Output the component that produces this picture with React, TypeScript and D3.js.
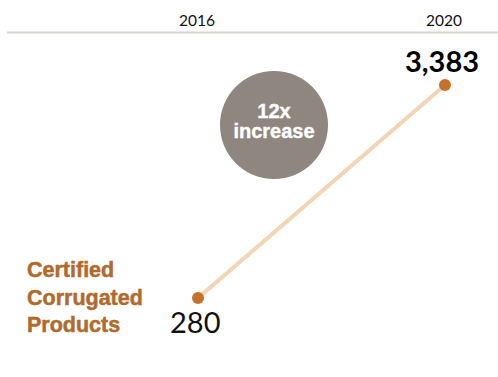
import React from "react";
import * as d3 from "d3";

const years = ["2016", "2020"];
const values = [280, 3383];
const valueLabels = ["280", "3,383"];
const seriesLabel = ["Certified", "Corrugated", "Products"];
const badgeLines = ["12x", "increase"];

export default function App() {
  const W = 498, H = 377;
  const x = d3.scalePoint<string>().domain(years).range([198, 445]);
  const y = d3.scaleLinear().domain([280, 3383]).range([298, 85]);
  const pts: [number, number][] = years.map((yr, i) => [x(yr) as number, y(values[i])]);
  const line = d3.line()(pts) as string;
  const headerX = years.map((yr) => (x(yr) as number) - 1);

  return (
    <div style={{ position: "fixed", left: 0, top: 0 }}>
      <svg width={W} height={H} style={{ display: "block", background: "#fff" }}>
        {years.map((yr, i) => (
          <text key={yr} x={headerX[i]} y={26} textAnchor="middle"
            fontFamily="Lato, 'Open Sans', sans-serif" fontSize={15.5} fill="#111">{yr}</text>
        ))}
        <line x1={7} x2={498} y1={32.5} y2={32.5} stroke="#d9d4d0" strokeWidth={2} />

        <circle cx={274} cy={125} r={54} fill="#8f8680" />
        {badgeLines.map((t, i) => (
          <text key={t} x={274} y={117.5 + i * 20} textAnchor="middle"
            fontFamily="'Liberation Sans', Arial, sans-serif" fontWeight="bold" fontSize={20}
            fill="#fff" stroke="#fff" strokeWidth={0.4}>{t}</text>
        ))}

        <path d={line} stroke="#f3d4b4" strokeWidth={4} fill="none" strokeLinecap="round" />
        {pts.map((p, i) => (
          <circle key={i} cx={p[0]} cy={p[1]} r={6} fill="#c5722f" />
        ))}

        <text x={442} y={72} textAnchor="middle" fontFamily="Lato, sans-serif" fontWeight="bold"
          fontSize={29} fill="#000">{valueLabels[1]}</text>
        <text x={170} y={333} textAnchor="start" fontFamily="Lato, sans-serif" fontWeight="normal"
          fontSize={29} fill="#111">{valueLabels[0]}</text>

        {seriesLabel.map((t, i) => (
          <text key={t} x={27} y={277 + i * 27.5} fontFamily="'Liberation Sans', Arial, sans-serif"
            fontWeight="bold" fontSize={21.5} fill="#b06b2c" stroke="#b06b2c" strokeWidth={0.5}>{t}</text>
        ))}
      </svg>
    </div>
  );
}
